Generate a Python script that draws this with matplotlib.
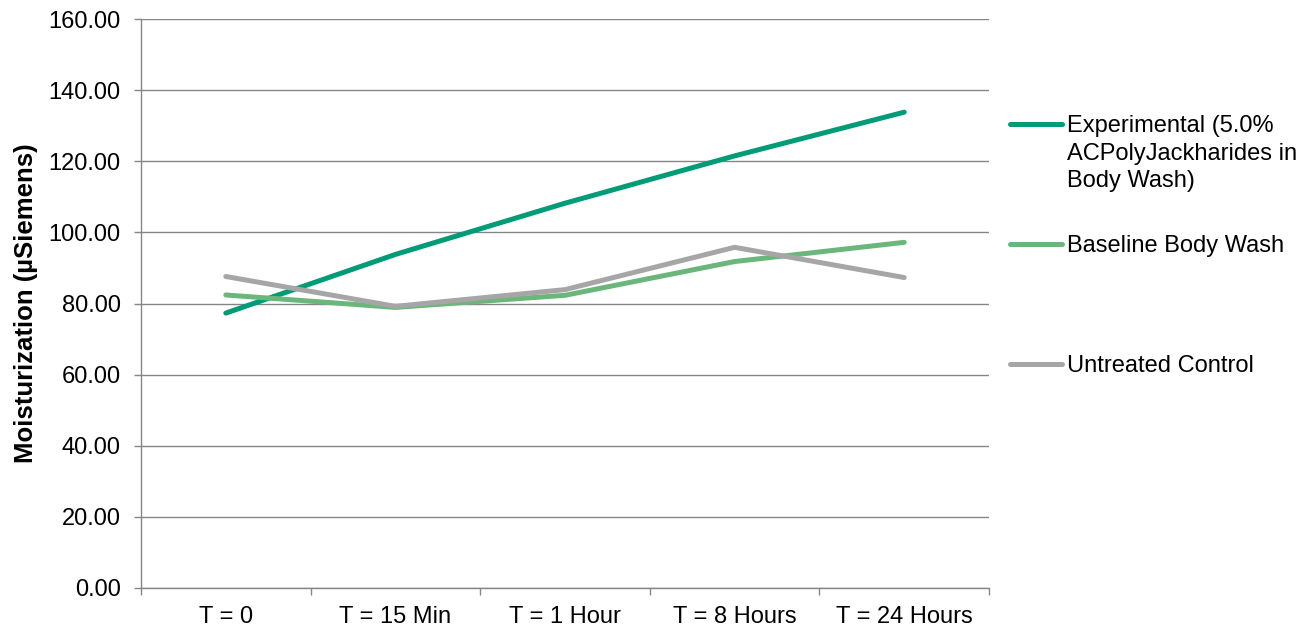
import matplotlib
matplotlib.use("Agg")
import matplotlib.pyplot as plt
from matplotlib.lines import Line2D
import numpy as np

plt.rcParams['font.family'] = ['Liberation Sans', 'DejaVu Sans']

categories = ["T = 0", "T = 15 Min", "T = 1 Hour", "T = 8 Hours", "T = 24 Hours"]
experimental = [77.3, 93.8, 108.2, 121.5, 133.8]
baseline = [82.4, 78.9, 82.3, 91.8, 97.2]
untreated = [87.6, 79.2, 83.9, 95.8, 87.3]

series_names = ["Experimental (5.0%\nACPolyJackharides in\nBody Wash)",
                "Baseline Body Wash",
                "Untreated Control"]
series_values = [experimental, baseline, untreated]
series_colors = ["#009B77", "#6BB77B", "#A6A6A6"]

grid_color = "#868686"
fs = 17

fig = plt.figure(figsize=(13.14, 6.27), dpi=100)
ax = fig.add_axes([141 / 1314, 1 - 588 / 627, (989 - 141) / 1314, (588 - 19) / 627])

x = np.arange(len(categories))
for vals, col in zip(series_values, series_colors):
    ax.plot(x, vals, color=col, lw=3.6, solid_capstyle='round', solid_joinstyle='round', zorder=3)

ax.set_xlim(-0.5, len(categories) - 0.5)
ax.set_ylim(0, 160)
ax.set_yticks(np.arange(0, 161, 20))
ax.set_yticklabels([f"{v:.2f}" for v in np.arange(0, 161, 20)])
ax.set_xticks(x)
ax.set_xticklabels(categories)
ax.set_xticks(np.arange(-0.5, len(categories), 1), minor=True)

ax.grid(axis='y', color=grid_color, lw=1.0, zorder=0)
for s in ['top', 'right']:
    ax.spines[s].set_visible(False)
for s in ['left', 'bottom']:
    ax.spines[s].set_color(grid_color)
    ax.spines[s].set_linewidth(1.0)

ax.tick_params(axis='x', which='major', length=0, pad=13, labelsize=fs)
ax.tick_params(axis='x', which='minor', length=5, color=grid_color, width=1.0)
ax.tick_params(axis='y', length=5, color=grid_color, width=1.0, pad=9.5, labelsize=fs)

ax.set_ylabel("Moisturization (µSiemens)", fontsize=18.5, fontweight='bold')
ax.yaxis.set_label_coords(-0.122, 0.5)

# Legend drawn entry by entry, handle aligned to first text line
legend_y = [124, 244, 364]
for name, col, yp in zip(series_names, series_colors, legend_y):
    yf = 1 - yp / 627
    fig.add_artist(Line2D([1010 / 1314, 1062 / 1314], [yf, yf], color=col, lw=3.6,
                          solid_capstyle='round', transform=fig.transFigure))
    fig.text(1067 / 1314, yf + 9 / 627, name, fontsize=fs, va='top', ha='left',
             linespacing=1.33)

fig.savefig("out.png", dpi=100)
